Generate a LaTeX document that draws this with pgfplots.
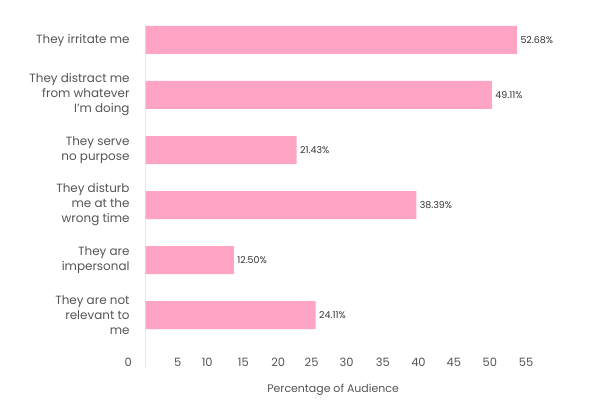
\documentclass[border=0pt]{standalone}
\usepackage{pgfplots}
\pgfplotsset{compat=1.18}
\usepackage{pgfplotstable}
\usepackage{fontspec}
\setmainfont{Poppins}
\definecolor{barpink}{HTML}{FFA4C4}
\definecolor{labgray}{HTML}{555555}
\definecolor{valgray}{HTML}{333333}
\definecolor{linegray}{HTML}{E8E8E8}
\pgfplotstableread{
x y label
52.68 0 52.68\%
49.11 1 49.11\%
21.43 2 21.43\%
38.39 3 38.39\%
12.50 4 12.50\%
24.11 5 24.11\%
}\datatable
\begin{document}
\begin{tikzpicture}
\fill[white] (0,0) rectangle (604bp,406bp);
\useasboundingbox (0,0) rectangle (604bp,406bp);
\begin{axis}[
  at={(124.5bp,52bp)}, anchor=south west,
  scale only axis,
  width=430bp, height=339bp,
  xmin=-3, xmax=58,
  ymin=-0.4545, ymax=5.709,
  y dir=reverse,
  xbar, bar width=28bp,
  clip=false,
  axis line style={draw=none},
  tick style={draw=none},
  xtick={-2.47,4.56,8.74,13.85,18.81,23.54,28.5,33.66,38.7,43.73,48.83,53.96},
  xticklabels={0,5,10,15,20,25,30,35,40,45,50,55},
  xticklabel style={anchor=center, yshift=-8bp, font=\fontsize{11.5}{13}\selectfont, text=labgray},
  ytick={0,1,2,3,4,5},
  yticklabels={{They irritate me},{They distract me\\from whatever\\I'm doing},{They serve\\no purpose},{They disturb\\me at the\\wrong time},{They are\\impersonal},{They are not\\relevant to\\me}},
  yticklabel style={align=right, anchor=east, inner sep=0pt, xshift=9.5bp, font=\fontsize{12}{15}\selectfont, text=labgray},
  xlabel={Percentage of Audience},
  xlabel style={at={(rel axis cs:0.485,0)}, anchor=center, yshift=-36bp, font=\fontsize{11}{13}\selectfont, text=labgray},
  /pgf/number format/assume math mode=true,
  point meta=explicit symbolic,
  nodes near coords,
  nodes near coords style={anchor=west, font=\fontsize{9.5}{11}\selectfont, text=valgray},
]
\draw[linegray, line width=1.5bp] (axis cs:0,-0.27) -- (axis cs:0,5.96);
\addplot[fill=barpink, draw=none] table[x=x, y=y, meta=label] {\datatable};
\end{axis}
\end{tikzpicture}
\end{document}
